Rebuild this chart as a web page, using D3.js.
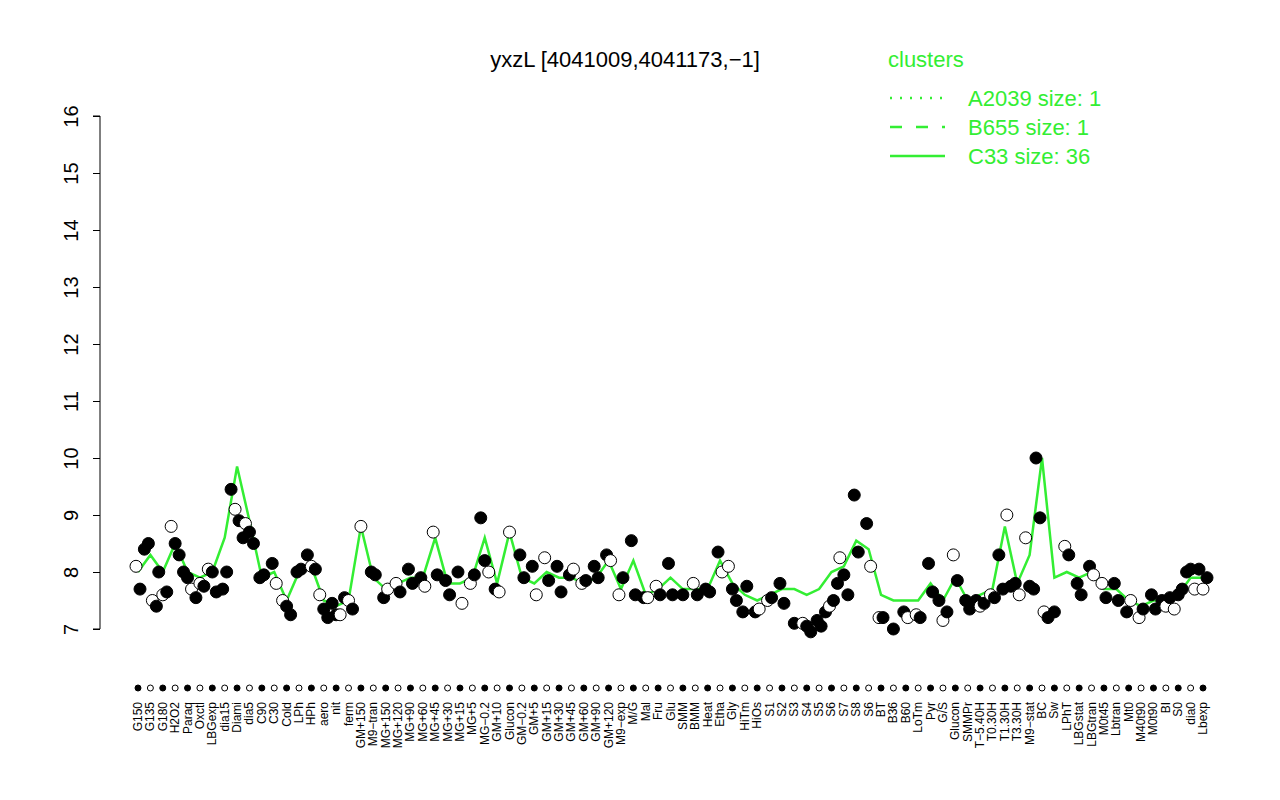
<!DOCTYPE html><html><head><script src="https://cdn.jsdelivr.net/npm/d3@7"></script>
<style>body{margin:0;background:#fff}</style></head><body><svg id="c" width="1280" height="800"></svg><script>
const categories=["G150","G135","G180","H2O2","Paraq","Oxctl","LBGexp","dia15","Diami","dia5","C90","C30","Cold","LPh","HPh","aero","nit","ferm","GM+150","M9-tran","MG+150","MG+120","MG+90","MG+60","MG+45","MG+30","MG+15","MG+5","MG-0.2","GM+10","Glucon","GM-0.2","GM+5","GM+15","GM+30","GM+45","GM+60","GM+90","GM+120","M9-exp","M/G","Mal","Fru","Glu","SMM","BMM","Heat","Etha","Gly","HiTm","HiOs","S1","S2","S3","S4","S5","S6","S7","S8","S6b","BT","B36","B60","LoTm","Pyr","G/S","Glucon2","SMMPr","T-5.40H","T0.30H","T1.30H","T3.30H","M9-stat","BC","Sw","LPhT","LBGstat","LBGtran","M0t45","Lbtran","Mt0","M40t90","M0t90","BI","S0","dia0","Lbexp"];
const labels=["G150","G135","G180","H2O2","Paraq","Oxctl","LBGexp","dia15","Diami","dia5","C90","C30","Cold","LPh","HPh","aero","nit","ferm","GM+150","M9−tran","MG+150","MG+120","MG+90","MG+60","MG+45","MG+30","MG+15","MG+5","MG−0.2","GM+10","Glucon","GM−0.2","GM+5","GM+15","GM+30","GM+45","GM+60","GM+90","GM+120","M9−exp","M/G","Mal","Fru","Glu","SMM","BMM","Heat","Etha","Gly","HiTm","HiOs","S1","S2","S3","S4","S5","S6","S7","S8","S6","BT","B36","B60","LoTm","Pyr","G/S","Glucon","SMMPr","T−5.40H","T0.30H","T1.30H","T3.30H","M9−stat","BC","Sw","LPhT","LBGstat","LBGtran","M0t45","Lbtran","Mt0","M40t90","M0t90","BI","S0","dia0","Lbexp"];
const values=[[8.1,7.7],[8.4,8.5,7.5,7.4],[8.0,7.6,7.65],[8.8,8.5,8.3],[8.0,7.9,7.7],[7.55,7.8,7.75],[8.05,8.0,7.65],[7.7,8.0],[9.45,9.1,8.9,8.6],[8.85,8.7,8.5],[7.9,7.95],[8.15,7.8],[7.5,7.4,7.25],[8.0,8.05],[8.3,8.1,8.05],[7.6,7.35,7.2],[7.45,7.25,7.25],[7.55,7.5,7.35],[8.8],[8.0,7.95],[7.55,7.7],[7.8,7.65],[8.05,7.8],[7.9,7.75],[8.7,7.95],[7.85,7.6],[8.0,7.45],[7.8,7.95],[8.95,8.2,8.0],[7.7,7.65],[8.7],[8.3,7.9],[8.1,7.6],[8.25,7.85],[8.1,7.65],[7.95,8.05],[7.8,7.85],[8.1,7.9],[8.3,8.2],[7.6,7.9],[8.55,7.6],[7.55,7.55],[7.75,7.6],[8.15,7.6],[7.6],[7.8,7.6],[7.7,7.65],[8.35,8.0],[8.1,7.7,7.5],[7.3,7.75],[7.3,7.35],[7.5,7.55],[7.8,7.45],[7.1],[7.1,7.05,6.95],[7.15,7.05],[7.3,7.4,7.5,7.8],[8.25,7.95,7.6],[9.35,8.35],[8.85,8.1],[7.2,7.2],[7.0],[7.3,7.2],[7.25,7.2],[8.15,7.65],[7.5,7.15,7.3],[8.3,7.85],[7.5,7.35],[7.5,7.4,7.45],[7.6,7.55],[8.3,7.7,9.0,7.75],[7.8,7.6],[8.6,7.75,7.7],[10.0,8.95,7.3,7.2],[7.3],[8.45,8.3],[7.8,7.6],[8.1,7.95],[7.8,7.55],[7.8,7.5],[7.3,7.5],[7.2,7.35],[7.6,7.35],[7.5,7.4,7.55],[7.35,7.6,7.7],[8.0,8.05,7.7],[8.05,7.7,7.9]];
const lineValues=[8.0,8.3,8.0,8.5,8.0,7.9,8.0,8.6,9.85,8.9,7.9,8.0,7.5,8.0,8.1,7.5,7.4,7.5,8.8,7.9,7.7,7.8,7.9,7.9,8.6,7.8,7.8,7.9,8.6,7.8,8.7,7.9,7.8,8.0,7.9,7.9,7.8,7.9,8.2,7.7,8.2,7.6,7.7,7.9,7.7,7.7,7.7,8.2,7.8,7.6,7.5,7.6,7.7,7.7,7.6,7.7,8.0,8.1,8.55,8.4,7.6,7.5,7.5,7.5,7.8,7.5,7.9,7.5,7.6,7.7,8.8,7.8,8.3,10.0,7.9,8.0,7.9,8.0,7.7,7.7,7.5,7.4,7.5,7.5,7.6,7.9,7.9];
const yTicks=[7,8,9,10,11,12,13,14,15,16];
const svg=d3.select("#c");
const x=d3.scalePoint().domain(categories).range([138,1203]);
const y=d3.scaleLinear().domain([7,16]).range([629,116]);
const g="#33ee33";
const F="Helvetica, Liberation Sans, Arial";
svg.append("path").datum(lineValues).attr("fill","none").attr("stroke",g).attr("stroke-width",2.5)
 .attr("d",d3.line().x((d,i)=>x(categories[i])).y(d=>y(d)));
categories.forEach((c,i)=>{values[i].forEach((v,j)=>{
 svg.append("circle").attr("cx",x(c)+(j-(values[i].length-1)/2)*4).attr("cy",y(v)).attr("r",6)
 .attr("fill",(i+j)%3==0?"#fff":"#000").attr("stroke","#000").attr("stroke-width",1);});
 svg.append("circle").attr("cx",x(c)).attr("cy",688).attr("r",3).attr("fill",i%2?"#fff":"#000").attr("stroke","#000");
 svg.append("text").attr("transform",`translate(${x(c)+4},702) rotate(-90)`).attr("text-anchor","end")
  .attr("font-family",F).attr("font-size",12).text(labels[i]);
});
const ax=svg.append("g").attr("transform","translate(100,0)").call(d3.axisLeft(y).tickValues(yTicks).tickSize(7).tickFormat(d3.format("d")));
ax.selectAll("text").attr("font-size",20).attr("font-family",F).attr("transform","rotate(-90)").attr("x",0).attr("dy",0).attr("y",-22).attr("text-anchor","middle").attr("dominant-baseline","auto");
ax.select(".domain").attr("d","M-7,629H0V116H-7").attr("stroke","#000");
ax.selectAll("line").attr("stroke","#000");
svg.append("text").attr("x",625).attr("y",67).attr("text-anchor","middle").attr("font-family",F).attr("font-size",22).text("yxzL [4041009,4041173,−1]");
const leg=[["A2039 size: 1","2,8"],["B655 size: 1","12,14"],["C33 size: 36",null]];
svg.append("text").attr("x",888).attr("y",67).attr("fill",g).attr("font-family",F).attr("font-size",22).text("clusters");
leg.forEach((l,i)=>{const yy=98+i*29;
 svg.append("line").attr("x1",890).attr("x2",945).attr("y1",yy).attr("y2",yy).attr("stroke",g).attr("stroke-width",2.5).attr("stroke-dasharray",l[1]);
 svg.append("text").attr("x",968).attr("y",yy+8).attr("fill",g).attr("font-family",F).attr("font-size",22).text(l[0]);});
</script></body></html>
